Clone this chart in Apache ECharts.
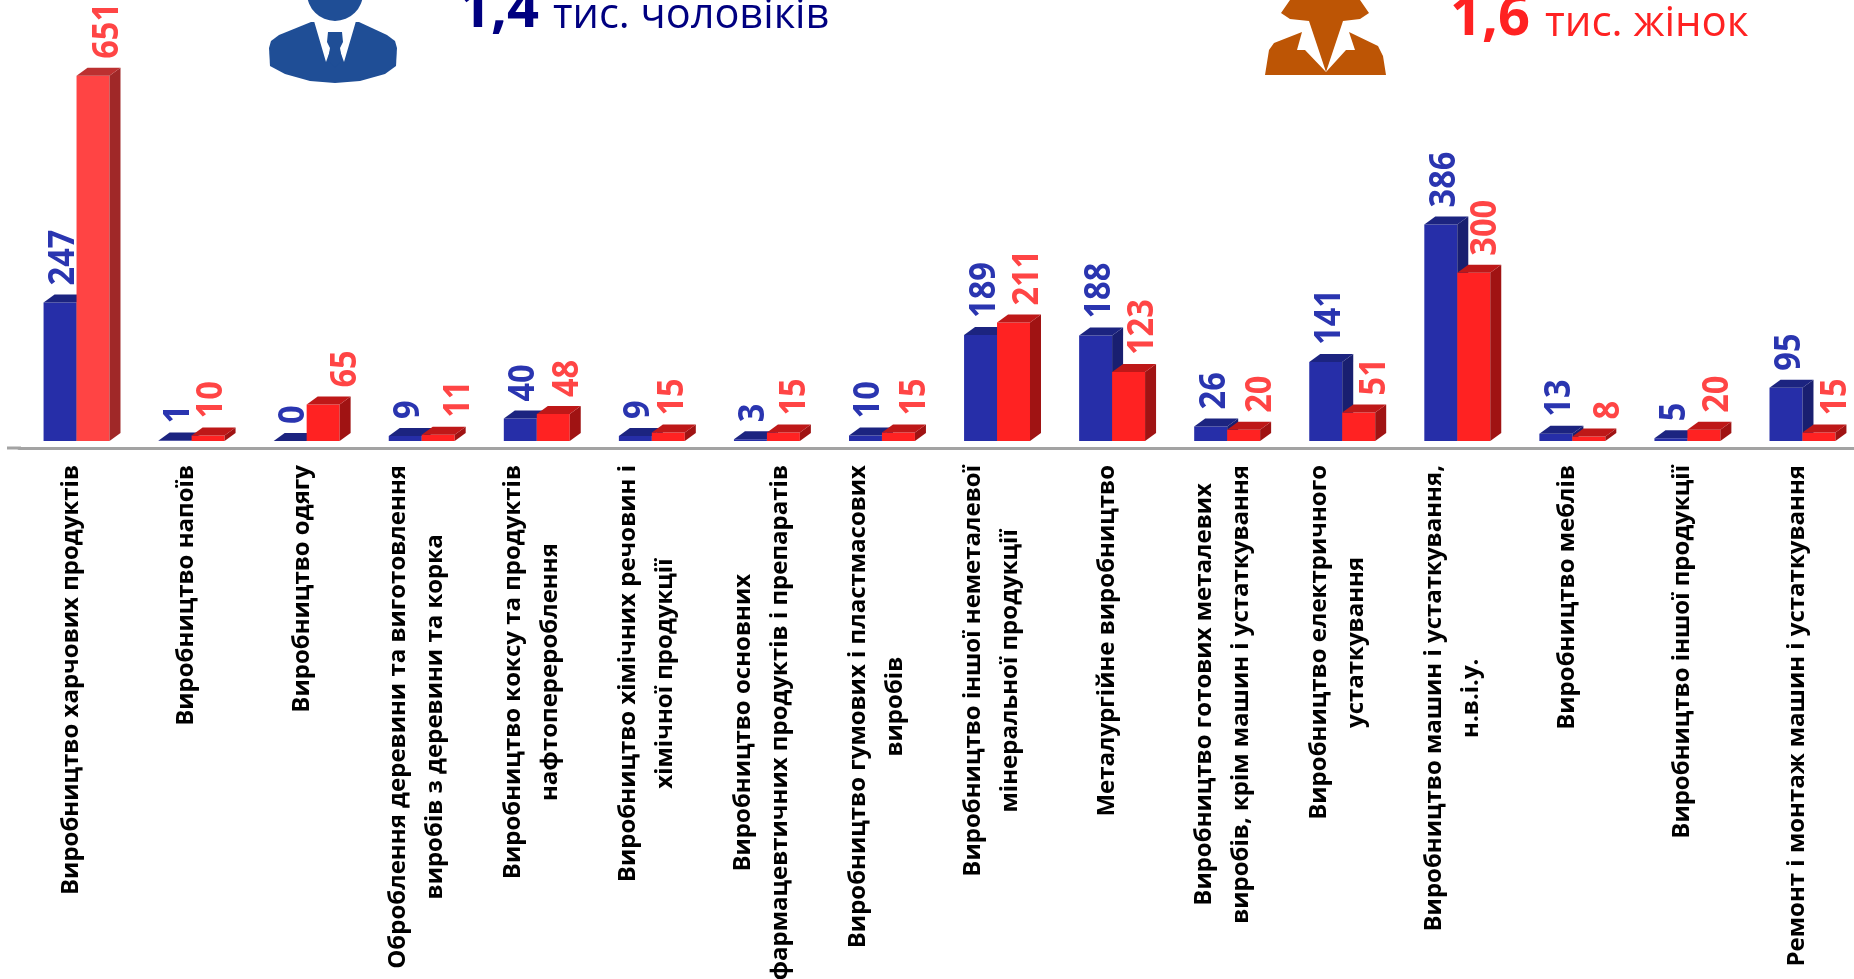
<!DOCTYPE html>
<html>
<head>
<meta charset="utf-8">
<style>html,body{margin:0;padding:0;background:#fff;overflow:hidden}#c{width:1854px;height:979px}</style>
<script src="https://cdn.jsdelivr.net/npm/echarts@6/dist/echarts.min.js"></script>
</head>
<body>
<div id="c"></div>
<script>
const categories = [
  'Виробництво харчових продуктів',
  'Виробництво напоїв',
  'Виробництво одягу',
  'Оброблення деревини та виготовлення\nвиробів з деревини та корка',
  'Виробництво коксу та продуктів\nнафтоперероблення',
  'Виробництво хімічних речовин і\nхімічної продукції',
  'Виробництво основних\nфармацевтичних продуктів і препаратів',
  'Виробництво гумових і пластмасових\nвиробів',
  'Виробництво іншої неметалевої\nмінеральної продукції',
  'Металургійне виробництво',
  'Виробництво готових металевих\nвиробів, крім машин і устаткування',
  'Виробництво електричного\nустаткування',
  'Виробництво машин і устаткування,\nн.в.і.у.',
  'Виробництво меблів',
  'Виробництво іншої продукції',
  'Ремонт і монтаж машин і устаткування'
];
const men = [247, 1, 0, 9, 40, 9, 3, 10, 189, 188, 26, 141, 386, 13, 5, 95];
const women = [651, 10, 65, 11, 48, 15, 15, 15, 211, 123, 20, 51, 300, 8, 20, 15];

// label nudges along the category axis, as placed by hand in the source
const menLabelShift = [4,4,4,4,4,4,4,4,4,4,4,4,4,4,4,4];
const womenLabelShift = [15,4,23,21,15,5,12,17,15,14.5,17,16.5,12,20,14.5,17.5];

const DX = 11, DY = 8, FONT = '"Open Sans"';
const palette = {
  men:   {front:'#262EA8', top:'#1C2480', side:'#191F70', label:'#2A35B0'},
  women: {front:'#FF2222', top:'#BE1818', side:'#A01313', label:'#FF4545'},
  womenFirst: {front:'#FF4444', top:'#BC3030', side:'#A02828', label:'#FF4545'}
};

function bar3d(dir, shifts, colourOf) {
  return function (params, api) {
    const i = api.value(0), v = api.value(1);
    const base = api.coord([i, 0]), top = api.coord([i, v]);
    const w = api.size([1, 0])[0] * 0.2865;
    const x0 = dir < 0 ? base[0] - w : base[0], x1 = x0 + w;
    const y = top[1], b = base[1];
    const c = colourOf(i);
    return {type:'group', children:[
      {type:'rect', shape:{x:x0, y:y, width:w, height:b - y}, style:{fill:c.front}},
      {type:'polygon', shape:{points:[[x1,b],[x1+DX,b-DY],[x1+DX,y-DY],[x1,y]]}, style:{fill:c.side}},
      {type:'polygon', shape:{points:[[x0,y],[x1,y],[x1+DX,y-DY],[x0+DX,y-DY]]}, style:{fill:c.top}},
      {type:'text', x:x0 + w/2 + shifts[i], y:y - DY - 9, rotation:Math.PI/2, scaleX:0.93,
       style:{text:String(v), fill:c.label, font:'bold 35px '+FONT, textAlign:'left', textVerticalAlign:'middle', verticalAlign:'middle'}}
    ]};
  };
}

const chart = echarts.init(document.getElementById('c'), null, {renderer:'canvas'});
const manBlue = '#1F4E96', womanOrange = '#BD5505';
chart.setOption({
  animation:false,
  backgroundColor:'#fff',
  grid:{left:19, width:1841, top:0, height:441, containLabel:false, outerBoundsMode:'none'},
  xAxis:{
    type:'category', data:categories, offset:7,
    axisTick:{show:false},
    axisLine:{onZero:false, lineStyle:{color:'#A3A3A3', width:3}},
    axisLabel:{
      interval:0, rotate:90, margin:17, hideOverlap:false,
      formatter:function(v){ return v.split('\n').map(function(l){return '{a|'+l+'}';}).join('\n'); },
      padding:[0,0,10,0],
      rich:{a:{align:'center', lineHeight:37, fontFamily:FONT, fontWeight:'bold', fontSize:24, color:'#000'}}
    }
  },
  yAxis:{type:'value', min:0, max:786, show:false, splitLine:{show:false}},
  series:[
    {name:'чоловіки', type:'custom', data:men.map(function(v,i){return [i,v];}), encode:{x:0,y:1},
     renderItem:bar3d(-1, menLabelShift, function(){return palette.men;}), clip:false, z:2},
    {name:'жінки', type:'custom', data:women.map(function(v,i){return [i,v];}), encode:{x:0,y:1},
     renderItem:bar3d(1, womenLabelShift, function(i){return i===0?palette.womenFirst:palette.women;}), clip:false, z:3}
  ],
  graphic:[
    {type:'rect', shape:{x:7,y:446.5,width:14,height:3}, style:{fill:'#A3A3A3'}, silent:true},
    // man icon
    {type:'circle', shape:{cx:335,cy:-7,r:28}, style:{fill:manBlue}},
    {type:'polygon', shape:{points:[[311,22],[279,35],[271,41],[269,48],[270,66],[285,74],[310,81],[335,83],[360,81],[385,74],[396,66],[397,48],[395,41],[387,35],[359,22]]}, style:{fill:manBlue}},
    {type:'polygon', shape:{points:[[314,21],[356,21],[344,62],[339,48],[331,48],[326,62]]}, style:{fill:'#fff'}},
    {type:'polygon', shape:{points:[[328,32],[342,32],[343,42],[340,48],[342,60],[335,68],[328,60],[330,48],[327,42]]}, style:{fill:manBlue}},
    // woman icon
    {type:'polygon', shape:{points:[[1290,0],[1281,13],[1290,19],[1309,21],[1326,72],[1343,21],[1360,19],[1369,13],[1360,0]]}, style:{fill:womanOrange}},
    {type:'polygon', shape:{points:[[1302,32],[1274,43],[1269,50],[1265,75],[1386,75],[1383,56],[1378,46],[1349,32],[1355,50],[1346,50],[1326,72],[1305,50],[1297,50]]}, style:{fill:womanOrange}},
    // headings
    {type:'text', x:459, y:39, style:{text:'1,4', fill:'#000080', font:'bold 56px '+FONT, textAlign:'left', textVerticalAlign:'bottom', verticalAlign:'bottom'}},
    {type:'text', x:553, y:37, style:{text:'тис. чоловіків', fill:'#000080', font:'41.5px '+FONT, textAlign:'left', textVerticalAlign:'bottom', verticalAlign:'bottom'}},
    {type:'text', x:1450, y:47, style:{text:'1,6', fill:'#FF2222', font:'bold 56px '+FONT, textAlign:'left', textVerticalAlign:'bottom', verticalAlign:'bottom'}},
    {type:'text', x:1545, y:45, style:{text:'тис. жінок', fill:'#FF2222', font:'42px '+FONT, textAlign:'left', textVerticalAlign:'bottom', verticalAlign:'bottom'}}
  ]
});
</script>
</body>
</html>
